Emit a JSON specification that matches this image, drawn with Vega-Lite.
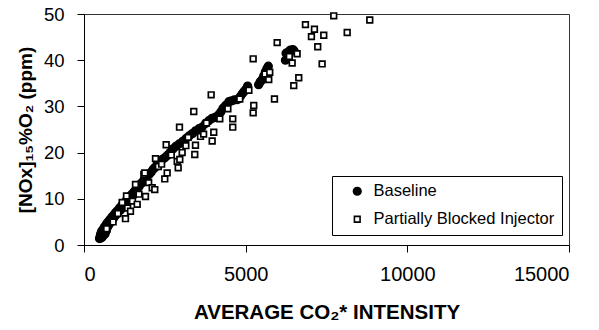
{
  "$schema": "https://vega.github.io/schema/vega-lite/v6.json",
  "width": 485,
  "height": 231,
  "autosize": {"type": "none"},
  "padding": {"left": 84, "top": 14, "right": 30, "bottom": 85},
  "config": {
    "view": {"stroke": "#333", "strokeWidth": 1},
    "font": "Liberation Sans",
    "axis": {"grid": false, "domainColor": "black", "tickColor": "black", "labelColor": "black", "titleColor": "black", "labelFont": "Liberation Sans", "titleFont": "Liberation Sans"},
    "legend": {
      "labelFont": "Liberation Sans", "orient": "none", "legendX": 248, "legendY": 162,
      "strokeColor": "black", "padding": 7, "labelFontSize": 16.5, "labelColor": "black",
      "rowPadding": 11, "labelOffset": 8, "symbolOffset": 10, "labelLimit": 400,
      "symbolStrokeColor": "black", "symbolStrokeWidth": 1.6
    }
  },
  "data": {
    "values": [
      {"series": "Baseline", "co2": 480, "nox": 1.4},
      {"series": "Baseline", "co2": 500, "nox": 1.8},
      {"series": "Baseline", "co2": 510, "nox": 2.2},
      {"series": "Baseline", "co2": 520, "nox": 1.5},
      {"series": "Baseline", "co2": 530, "nox": 2.6},
      {"series": "Baseline", "co2": 540, "nox": 2.0},
      {"series": "Baseline", "co2": 550, "nox": 3.0},
      {"series": "Baseline", "co2": 560, "nox": 1.7},
      {"series": "Baseline", "co2": 570, "nox": 2.4},
      {"series": "Baseline", "co2": 580, "nox": 3.2},
      {"series": "Baseline", "co2": 590, "nox": 2.8},
      {"series": "Baseline", "co2": 600, "nox": 2.1},
      {"series": "Baseline", "co2": 610, "nox": 3.5},
      {"series": "Baseline", "co2": 620, "nox": 2.6},
      {"series": "Baseline", "co2": 630, "nox": 3.9},
      {"series": "Baseline", "co2": 640, "nox": 3.0},
      {"series": "Baseline", "co2": 650, "nox": 2.4},
      {"series": "Baseline", "co2": 660, "nox": 3.6},
      {"series": "Baseline", "co2": 680, "nox": 4.2},
      {"series": "Baseline", "co2": 690, "nox": 3.1},
      {"series": "Baseline", "co2": 700, "nox": 4.6},
      {"series": "Baseline", "co2": 720, "nox": 3.8},
      {"series": "Baseline", "co2": 740, "nox": 4.9},
      {"series": "Baseline", "co2": 760, "nox": 4.3},
      {"series": "Baseline", "co2": 780, "nox": 5.3},
      {"series": "Baseline", "co2": 800, "nox": 4.7},
      {"series": "Baseline", "co2": 820, "nox": 5.6},
      {"series": "Baseline", "co2": 850, "nox": 5.2},
      {"series": "Baseline", "co2": 870, "nox": 6.1},
      {"series": "Baseline", "co2": 900, "nox": 5.7},
      {"series": "Baseline", "co2": 920, "nox": 6.5},
      {"series": "Baseline", "co2": 950, "nox": 6.2},
      {"series": "Baseline", "co2": 980, "nox": 7.0},
      {"series": "Baseline", "co2": 1000, "nox": 6.6},
      {"series": "Baseline", "co2": 1030, "nox": 7.4},
      {"series": "Baseline", "co2": 1060, "nox": 7.1},
      {"series": "Baseline", "co2": 1100, "nox": 8.0},
      {"series": "Baseline", "co2": 1130, "nox": 7.6},
      {"series": "Baseline", "co2": 1170, "nox": 8.6},
      {"series": "Baseline", "co2": 1200, "nox": 8.3},
      {"series": "Baseline", "co2": 1240, "nox": 9.1},
      {"series": "Baseline", "co2": 1280, "nox": 8.9},
      {"series": "Baseline", "co2": 1320, "nox": 9.8},
      {"series": "Baseline", "co2": 1360, "nox": 9.6},
      {"series": "Baseline", "co2": 1400, "nox": 10.4},
      {"series": "Baseline", "co2": 1440, "nox": 10.2},
      {"series": "Baseline", "co2": 1480, "nox": 11.0},
      {"series": "Baseline", "co2": 1520, "nox": 10.8},
      {"series": "Baseline", "co2": 1560, "nox": 11.6},
      {"series": "Baseline", "co2": 1610, "nox": 11.7},
      {"series": "Baseline", "co2": 1650, "nox": 12.4},
      {"series": "Baseline", "co2": 1700, "nox": 12.6},
      {"series": "Baseline", "co2": 1750, "nox": 13.2},
      {"series": "Baseline", "co2": 1800, "nox": 13.5},
      {"series": "Baseline", "co2": 1850, "nox": 14.0},
      {"series": "Baseline", "co2": 1900, "nox": 14.3},
      {"series": "Baseline", "co2": 1960, "nox": 14.9},
      {"series": "Baseline", "co2": 2020, "nox": 15.3},
      {"series": "Baseline", "co2": 2080, "nox": 15.8},
      {"series": "Baseline", "co2": 2140, "nox": 16.4},
      {"series": "Baseline", "co2": 2200, "nox": 16.8},
      {"series": "Baseline", "co2": 2270, "nox": 17.5},
      {"series": "Baseline", "co2": 2340, "nox": 18.0},
      {"series": "Baseline", "co2": 2420, "nox": 18.5},
      {"series": "Baseline", "co2": 2500, "nox": 18.9},
      {"series": "Baseline", "co2": 2580, "nox": 19.4},
      {"series": "Baseline", "co2": 2660, "nox": 20.0},
      {"series": "Baseline", "co2": 2750, "nox": 20.8},
      {"series": "Baseline", "co2": 2850, "nox": 21.4},
      {"series": "Baseline", "co2": 2950, "nox": 21.9},
      {"series": "Baseline", "co2": 3050, "nox": 22.4},
      {"series": "Baseline", "co2": 3150, "nox": 23.0},
      {"series": "Baseline", "co2": 3250, "nox": 23.6},
      {"series": "Baseline", "co2": 3350, "nox": 24.1},
      {"series": "Baseline", "co2": 3450, "nox": 24.7},
      {"series": "Baseline", "co2": 3560, "nox": 25.2},
      {"series": "Baseline", "co2": 3650, "nox": 25.5},
      {"series": "Baseline", "co2": 3760, "nox": 26.3},
      {"series": "Baseline", "co2": 3860, "nox": 26.9},
      {"series": "Baseline", "co2": 3960, "nox": 27.4},
      {"series": "Baseline", "co2": 4050, "nox": 27.6},
      {"series": "Baseline", "co2": 4150, "nox": 28.1},
      {"series": "Baseline", "co2": 4230, "nox": 28.8},
      {"series": "Baseline", "co2": 4300, "nox": 29.6},
      {"series": "Baseline", "co2": 4380, "nox": 30.2},
      {"series": "Baseline", "co2": 4480, "nox": 31.0},
      {"series": "Baseline", "co2": 4560, "nox": 31.2},
      {"series": "Baseline", "co2": 4650, "nox": 31.4},
      {"series": "Baseline", "co2": 4750, "nox": 31.5},
      {"series": "Baseline", "co2": 4840, "nox": 32.2},
      {"series": "Baseline", "co2": 4900, "nox": 32.8},
      {"series": "Baseline", "co2": 4960, "nox": 33.3},
      {"series": "Baseline", "co2": 5020, "nox": 33.8},
      {"series": "Baseline", "co2": 5060, "nox": 34.4},
      {"series": "Baseline", "co2": 5400, "nox": 34.7},
      {"series": "Baseline", "co2": 5450, "nox": 35.3},
      {"series": "Baseline", "co2": 5510, "nox": 35.8},
      {"series": "Baseline", "co2": 5560, "nox": 36.6},
      {"series": "Baseline", "co2": 5610, "nox": 37.5},
      {"series": "Baseline", "co2": 5660, "nox": 38.2},
      {"series": "Baseline", "co2": 5700, "nox": 38.7},
      {"series": "Baseline", "co2": 6230, "nox": 40.0},
      {"series": "Baseline", "co2": 6250, "nox": 41.5},
      {"series": "Baseline", "co2": 6330, "nox": 41.8},
      {"series": "Baseline", "co2": 6380, "nox": 42.2},
      {"series": "Baseline", "co2": 6460, "nox": 42.3},
      {"series": "Baseline", "co2": 6500, "nox": 42.0},
      {"series": "Partially Blocked Injector", "co2": 700, "nox": 3.5},
      {"series": "Partially Blocked Injector", "co2": 900, "nox": 5.0},
      {"series": "Partially Blocked Injector", "co2": 1050, "nox": 6.8},
      {"series": "Partially Blocked Injector", "co2": 1180, "nox": 9.2},
      {"series": "Partially Blocked Injector", "co2": 1283, "nox": 5.7},
      {"series": "Partially Blocked Injector", "co2": 1314, "nox": 10.6},
      {"series": "Partially Blocked Injector", "co2": 1350, "nox": 8.0},
      {"series": "Partially Blocked Injector", "co2": 1438, "nox": 7.3},
      {"series": "Partially Blocked Injector", "co2": 1500, "nox": 9.5},
      {"series": "Partially Blocked Injector", "co2": 1592, "nox": 13.1},
      {"series": "Partially Blocked Injector", "co2": 1645, "nox": 8.8},
      {"series": "Partially Blocked Injector", "co2": 1700, "nox": 11.0},
      {"series": "Partially Blocked Injector", "co2": 1850, "nox": 15.3},
      {"series": "Partially Blocked Injector", "co2": 1880, "nox": 15.6},
      {"series": "Partially Blocked Injector", "co2": 1902, "nox": 10.5},
      {"series": "Partially Blocked Injector", "co2": 2000, "nox": 13.5},
      {"series": "Partially Blocked Injector", "co2": 2109, "nox": 12.4},
      {"series": "Partially Blocked Injector", "co2": 2189, "nox": 12.0},
      {"series": "Partially Blocked Injector", "co2": 2211, "nox": 18.7},
      {"series": "Partially Blocked Injector", "co2": 2300, "nox": 17.0},
      {"series": "Partially Blocked Injector", "co2": 2400, "nox": 17.5},
      {"series": "Partially Blocked Injector", "co2": 2498, "nox": 14.3},
      {"series": "Partially Blocked Injector", "co2": 2541, "nox": 21.7},
      {"series": "Partially Blocked Injector", "co2": 2572, "nox": 15.6},
      {"series": "Partially Blocked Injector", "co2": 2700, "nox": 19.5},
      {"series": "Partially Blocked Injector", "co2": 2882, "nox": 18.1},
      {"series": "Partially Blocked Injector", "co2": 2913, "nox": 16.7},
      {"series": "Partially Blocked Injector", "co2": 2953, "nox": 25.5},
      {"series": "Partially Blocked Injector", "co2": 2963, "nox": 18.5},
      {"series": "Partially Blocked Injector", "co2": 3036, "nox": 20.0},
      {"series": "Partially Blocked Injector", "co2": 3150, "nox": 21.5},
      {"series": "Partially Blocked Injector", "co2": 3222, "nox": 23.3},
      {"series": "Partially Blocked Injector", "co2": 3395, "nox": 28.9},
      {"series": "Partially Blocked Injector", "co2": 3426, "nox": 19.6},
      {"series": "Partially Blocked Injector", "co2": 3448, "nox": 21.6},
      {"series": "Partially Blocked Injector", "co2": 3602, "nox": 23.5},
      {"series": "Partially Blocked Injector", "co2": 3700, "nox": 24.0},
      {"series": "Partially Blocked Injector", "co2": 3788, "nox": 26.4},
      {"series": "Partially Blocked Injector", "co2": 3933, "nox": 32.5},
      {"series": "Partially Blocked Injector", "co2": 3964, "nox": 22.5},
      {"series": "Partially Blocked Injector", "co2": 4013, "nox": 24.4},
      {"series": "Partially Blocked Injector", "co2": 4200, "nox": 27.3},
      {"series": "Partially Blocked Injector", "co2": 4450, "nox": 29.5},
      {"series": "Partially Blocked Injector", "co2": 4601, "nox": 27.3},
      {"series": "Partially Blocked Injector", "co2": 4601, "nox": 25.5},
      {"series": "Partially Blocked Injector", "co2": 4818, "nox": 31.6},
      {"series": "Partially Blocked Injector", "co2": 5100, "nox": 33.5},
      {"series": "Partially Blocked Injector", "co2": 5232, "nox": 40.3},
      {"series": "Partially Blocked Injector", "co2": 5250, "nox": 30.2},
      {"series": "Partially Blocked Injector", "co2": 5232, "nox": 28.6},
      {"series": "Partially Blocked Injector", "co2": 5600, "nox": 37.0},
      {"series": "Partially Blocked Injector", "co2": 5714, "nox": 35.8},
      {"series": "Partially Blocked Injector", "co2": 5745, "nox": 37.4},
      {"series": "Partially Blocked Injector", "co2": 5891, "nox": 31.6},
      {"series": "Partially Blocked Injector", "co2": 5974, "nox": 43.8},
      {"series": "Partially Blocked Injector", "co2": 6350, "nox": 40.8},
      {"series": "Partially Blocked Injector", "co2": 6438, "nox": 39.4},
      {"series": "Partially Blocked Injector", "co2": 6487, "nox": 34.5},
      {"series": "Partially Blocked Injector", "co2": 6592, "nox": 41.4},
      {"series": "Partially Blocked Injector", "co2": 6642, "nox": 36.2},
      {"series": "Partially Blocked Injector", "co2": 6849, "nox": 47.7},
      {"series": "Partially Blocked Injector", "co2": 7034, "nox": 45.1},
      {"series": "Partially Blocked Injector", "co2": 7127, "nox": 46.7},
      {"series": "Partially Blocked Injector", "co2": 7229, "nox": 42.9},
      {"series": "Partially Blocked Injector", "co2": 7365, "nox": 39.2},
      {"series": "Partially Blocked Injector", "co2": 7415, "nox": 45.4},
      {"series": "Partially Blocked Injector", "co2": 7724, "nox": 49.6},
      {"series": "Partially Blocked Injector", "co2": 8140, "nox": 46.0},
      {"series": "Partially Blocked Injector", "co2": 8838, "nox": 48.7}
    ]
  },
  "mark": {"type": "point", "filled": true, "strokeWidth": 1.7, "opacity": 1},
  "encoding": {
    "x": {
      "field": "co2", "type": "quantitative",
      "scale": {"domain": [0, 15000], "nice": false},
      "axis": {
        "values": [0, 5000, 10000, 15000], "format": "d",
        "labelFontSize": 20, "tickSize": 7, "labelPadding": 12,
        "title": "AVERAGE CO₂* INTENSITY", "titleFontSize": 20.5, "titleFontWeight": "bold", "titlePadding": 18
      }
    },
    "y": {
      "field": "nox", "type": "quantitative",
      "scale": {"domain": [0, 50], "nice": false},
      "axis": {
        "values": [0, 10, 20, 30, 40, 50],
        "labelFontSize": 18.5, "tickSize": 7, "labelPadding": 13,
        "title": "[NOx]₁₅%O₂  (ppm)", "titleFontSize": 19, "titleFontWeight": "bold", "titlePadding": 8
      }
    },
    "shape": {
      "field": "series", "type": "nominal", "title": null,
      "scale": {"domain": ["Baseline", "Partially Blocked Injector"], "range": ["circle", "square"]}
    },
    "fill": {
      "field": "series", "type": "nominal", "title": null,
      "scale": {"domain": ["Baseline", "Partially Blocked Injector"], "range": ["black", "white"]}
    },
    "stroke": {
      "field": "series", "type": "nominal", "title": null,
      "scale": {"domain": ["Baseline", "Partially Blocked Injector"], "range": ["black", "black"]}
    },
    "size": {
      "field": "series", "type": "nominal", "title": null,
      "scale": {"domain": ["Baseline", "Partially Blocked Injector"], "range": [58, 32]}
    }
  }
}
